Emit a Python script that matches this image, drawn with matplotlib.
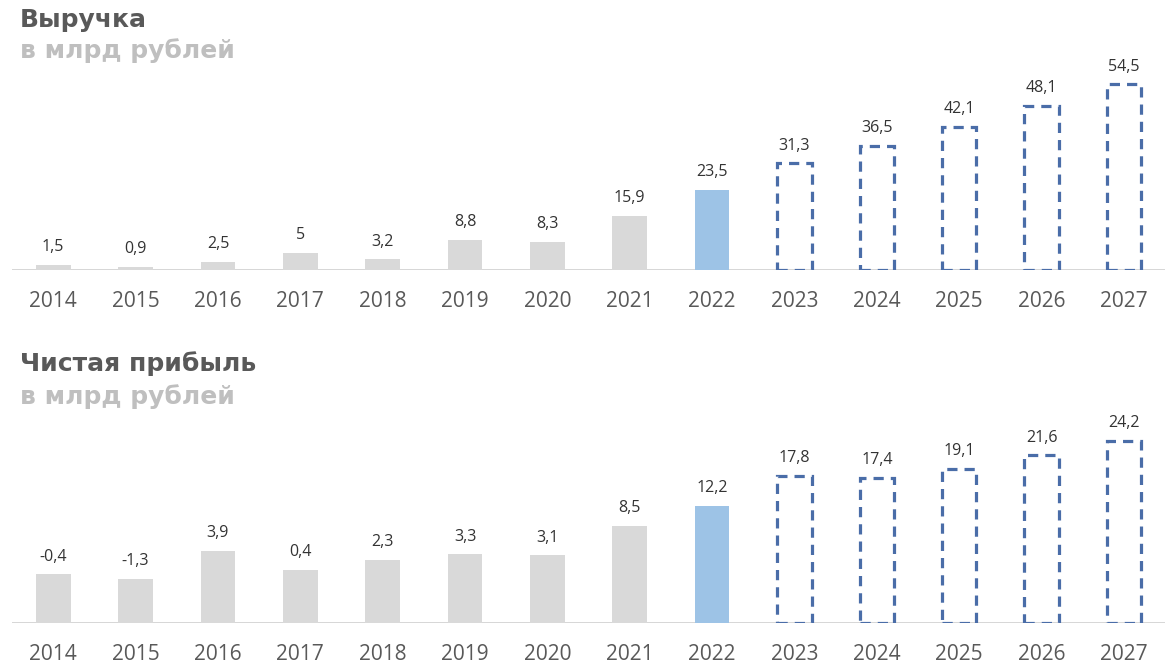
import matplotlib
matplotlib.use("Agg")
import matplotlib.pyplot as plt

years = ["2014", "2015", "2016", "2017", "2018", "2019", "2020",
         "2021", "2022", "2023", "2024", "2025", "2026", "2027"]
revenue = [1.5, 0.9, 2.5, 5, 3.2, 8.8, 8.3, 15.9, 23.5, 31.3, 36.5, 42.1, 48.1, 54.5]
profit = [-0.4, -1.3, 3.9, 0.4, 2.3, 3.3, 3.1, 8.5, 12.2, 17.8, 17.4, 19.1, 21.6, 24.2]
# bar types: 0 = historical, 1 = current, 2 = forecast
kinds = [0, 0, 0, 0, 0, 0, 0, 0, 1, 2, 2, 2, 2, 2]

GREY = "#D9D9D9"
LBLUE = "#9DC3E6"
DBLUE = "#4A6DA8"

plt.rcParams['font.family'] = ['Open Sans', 'DejaVu Sans']

fig = plt.figure(figsize=(11.7, 6.72), dpi=100)


def fmt(v):
    s = ("%g" % v).replace(".", ",")
    return s


def panel(rect, values, ylim, base):
    ax = fig.add_axes(rect)
    x = list(range(len(values)))
    for i, v in enumerate(values):
        k = kinds[i]
        h = v - base
        if k == 0:
            ax.bar(i, h, bottom=base, width=0.42, color=GREY, zorder=2)
        elif k == 1:
            ax.bar(i, h, bottom=base, width=0.42, color=LBLUE, zorder=2)
        else:
            ax.bar(i, h, bottom=base, width=0.42, facecolor="none",
                   edgecolor=DBLUE, linewidth=2.3, linestyle=(0, (3.2, 2.2)),
                   zorder=3)
        ax.annotate(fmt(v), (i, v), xytext=(0, 7), textcoords="offset points",
                    ha="center", va="bottom", fontsize=11.5, color="#333333")
    ax.set_xlim(-0.5, len(values) - 0.5)
    ax.set_ylim(*ylim)
    ax.axhline(base, color="#D0D0D0", linewidth=1.2, zorder=1)
    for s in ax.spines.values():
        s.set_visible(False)
    ax.set_yticks([])
    ax.set_xticks(x)
    ax.set_xticklabels(years, fontsize=15, color="#595959")
    ax.tick_params(axis="x", length=0, pad=15)
    ax.patch.set_alpha(0)
    return ax


panel([0.0103, 0.598, 0.9855, 0.3125], revenue, (0, 61.6), 0)
panel([0.0103, 0.0729, 0.9855, 0.302], profit, (-9.4, 28.1), -9.4)

tfont = dict(fontsize=18, fontweight="bold", family=["DejaVu Sans"])
fig.text(20 / 1170, 1 - 27 / 672, "Выручка", color="#595959", ha="left",
         va="baseline", **tfont)
fig.text(20 / 1170, 1 - 58 / 672, "в млрд рублей", color="#BFBFBF", ha="left",
         va="baseline", **tfont)
fig.text(20 / 1170, 1 - 371 / 672, "Чистая прибыль", color="#595959", ha="left",
         va="baseline", **tfont)
fig.text(20 / 1170, 1 - 404 / 672, "в млрд рублей", color="#BFBFBF", ha="left",
         va="baseline", **tfont)

fig.savefig("out.png", dpi=100)
